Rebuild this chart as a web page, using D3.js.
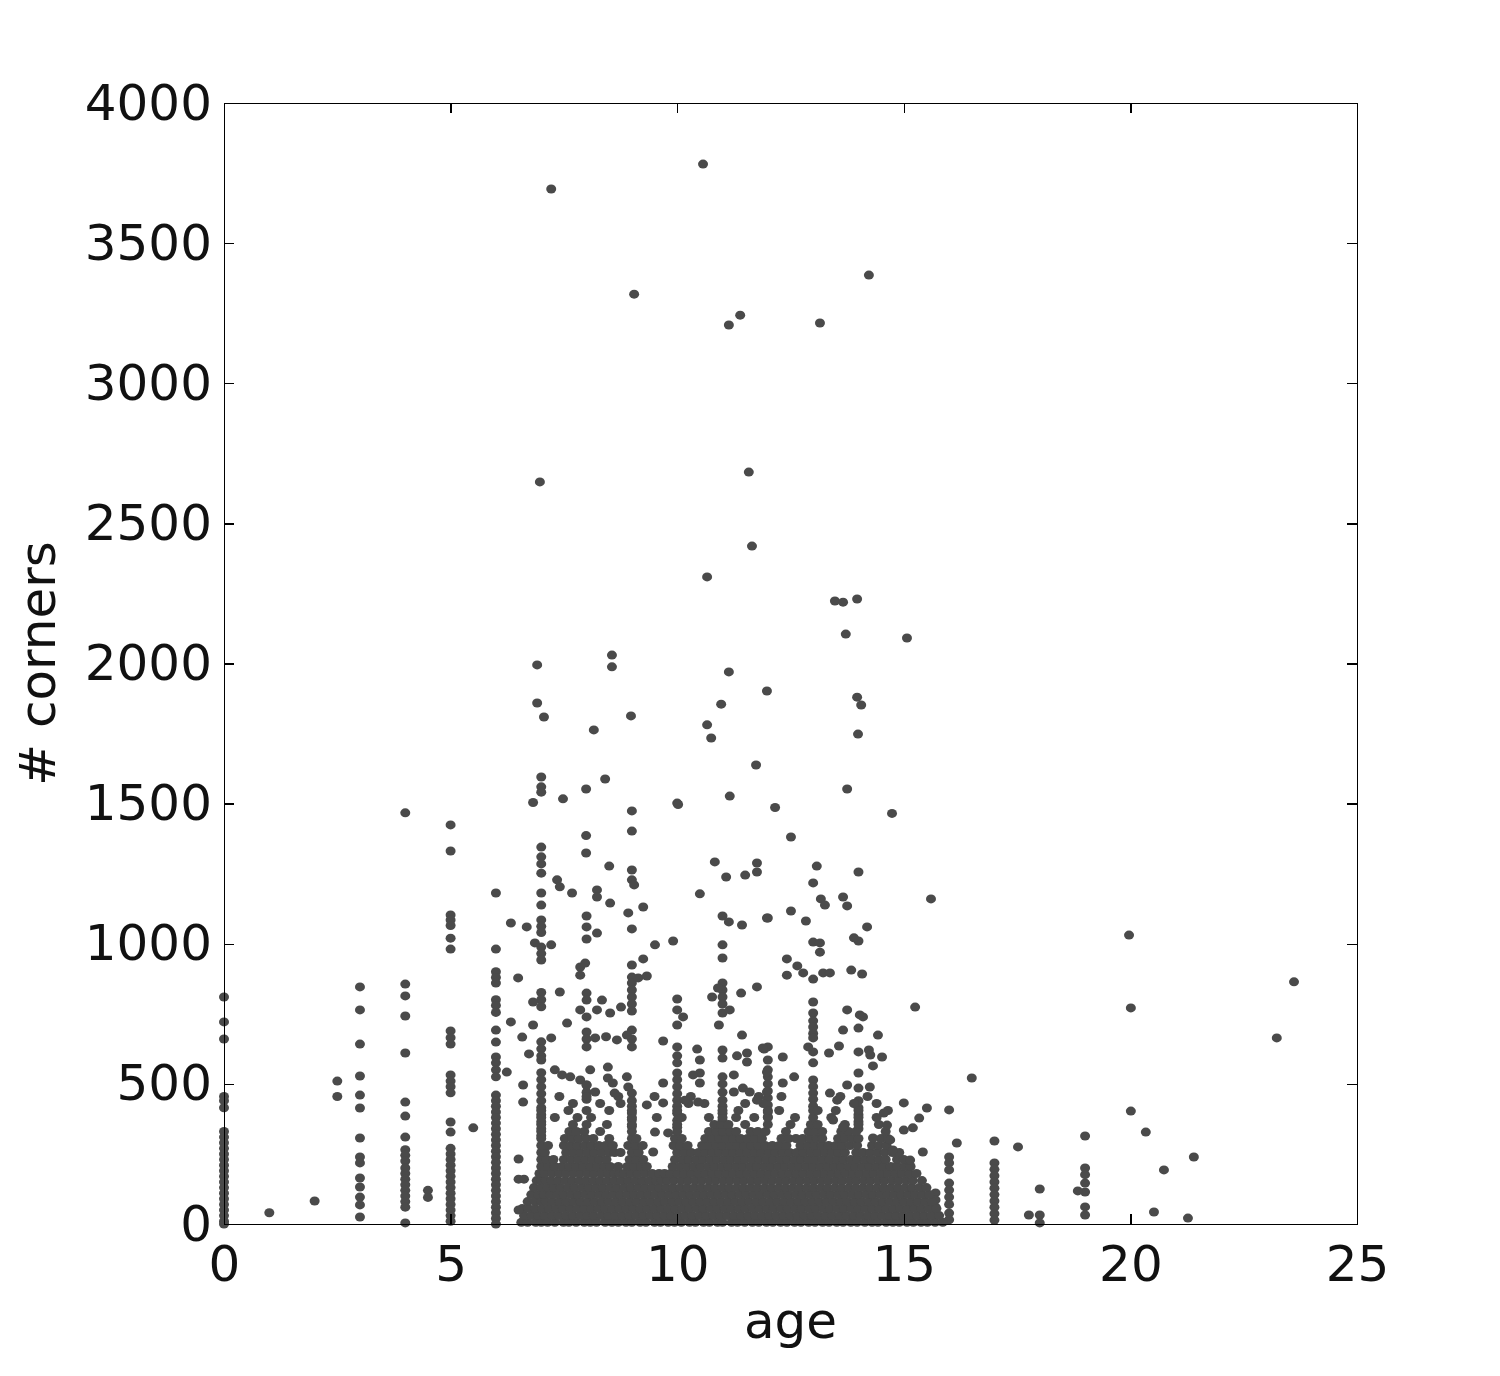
<!DOCTYPE html>
<html lang="en">
<head>
    <meta charset="UTF-8">
    <title># corners vs age</title>
    <script src="https://d3js.org/d3.v7.min.js"></script>
    <style>
        body { margin: 0; background: #fff; }
        .axis path, .axis line { stroke: #000; stroke-width: 1.3; shape-rendering: crispEdges; }
        .axis text { font-family: "DejaVu Sans", sans-serif; font-size: 50px; fill: #111; }
        .axis-title { font-family: "DejaVu Sans", sans-serif; font-size: 50px; fill: #111; }
        .dot { fill: #4a4a4a; }
    </style>
</head>
<body>
<svg id="chart"></svg>
<script>
// tick labels
const xTicks = [0, 5, 10, 15, 20, 25];
const yTicks = [0, 500, 1000, 1500, 2000, 2500, 3000, 3500, 4000];

// vertical stripes of points at (nearly) whole ages
const stripeAges = [0, 3, 4, 5, 6, 7, 8, 9, 10, 11, 12, 13, 14, 15.7, 16, 17, 18, 19];
const stripeCorners = [
    [810, 721, 660, 455, 440, 415, 330, 310, 290, 270, 250, 230, 210, 190, 170, 150, 130, 110, 90, 70, 50, 30, 10, 0],
    [846, 764, 642, 528, 460, 414, 307, 239, 218, 164, 132, 96, 68, 25],
    [1467, 856, 814, 742, 610, 435, 385, 310, 265, 245, 225, 200, 180, 160, 140, 120, 100, 80, 60, 4],
    [1424, 1331, 1103, 1085, 1065, 1020, 981, 689, 665, 642, 532, 510, 490, 468, 364, 328, 270, 250, 230, 210, 190, 170, 150, 130, 110, 90, 70, 50, 30, 10],
    [1181, 981, 900, 880, 860, 800, 780, 755, 692, 649, 596, 575, 550, 525, 460, 440, 420, 400, 380, 360, 340, 320, 300, 280, 260, 240, 220, 200, 180, 160, 140, 120, 100, 80, 60, 40, 20, 0],
    [1595, 1560, 1541, 1345, 1310, 1285, 1252, 1181, 1138, 1085, 1062, 1040, 988, 965, 942, 826, 800, 775, 650, 625, 600, 585, 540, 515, 490, 465, 440, 415, 390, 365, 340, 315],
    [1099, 1060, 1017, 824, 799, 739, 685, 660, 632, 496, 470, 445],
    [1474, 1402, 1263, 1228, 1053, 924, 881, 860, 835, 810, 785, 760, 692, 660, 632, 467, 440, 420, 396, 372, 348],
    [1502, 803, 764, 710, 632, 600, 575, 539, 515, 490, 465, 442, 420, 395, 370, 345],
    [996, 949, 860, 835, 810, 785, 753, 621, 592, 525, 500, 470, 442, 420, 395, 370, 345, 320],
    [1092, 632, 585, 550, 525, 500, 475, 450, 425, 400, 382],
    [1217, 1006, 874, 792, 753, 725, 703, 680, 664, 614, 575, 514, 490, 467, 445, 420],
    [1256, 1010, 699, 614, 539, 485, 440, 415, 390, 365, 340],
    [111, 86, 61, 39],
    [407, 239, 218, 193, 146, 121, 96, 70, 39, 15],
    [296, 218, 195, 172, 150, 128, 105, 82, 60, 37, 14],
    [125, 32, 4],
    [314, 200, 176, 146, 114, 61, 32]
];

// the dense band near the bottom, read row by row
const rowCorners = [6, 30, 55, 80, 105, 130, 155, 180, 205, 230, 255, 280, 305, 330, 355, 380, 405, 430, 455];
const rowAges = [
    [6.56, 6.7, 6.88, 7.0, 7.14, 7.3, 7.49, 7.61, 7.77, 7.95, 8.08, 8.22, 8.41, 8.56, 8.7, 8.87, 9.0, 9.18, 9.31, 9.5, 9.63, 9.8, 9.94, 10.09, 10.27, 10.4, 10.58, 10.71, 10.89, 11.0, 11.2, 11.33, 11.49, 11.66, 11.8, 11.97, 12.11, 12.28, 12.42, 12.59, 12.73, 12.9, 13.04, 13.21, 13.35, 13.52, 13.66, 13.83, 13.97, 14.14, 14.3, 14.43, 14.61, 14.76, 14.9, 15.07, 15.21, 15.38, 15.52, 15.69, 15.86],
    [6.62, 6.79, 6.93, 7.08, 7.24, 7.39, 7.55, 7.7, 7.86, 8.01, 8.16, 8.33, 8.48, 8.63, 8.79, 8.94, 9.1, 9.25, 9.41, 9.56, 9.72, 9.87, 10.02, 10.18, 10.33, 10.5, 10.64, 10.8, 10.95, 11.1, 11.26, 11.41, 11.57, 11.72, 11.88, 12.03, 12.19, 12.35, 12.5, 12.66, 12.81, 12.97, 13.12, 13.28, 13.43, 13.59, 13.74, 13.9, 14.05, 14.21, 14.37, 14.52, 14.68, 14.83, 14.99, 15.14, 15.3, 15.45, 15.61, 15.78],
    [6.58, 6.72, 6.87, 7.02, 7.17, 7.33, 7.48, 7.64, 7.8, 7.95, 8.1, 8.26, 8.41, 8.57, 8.72, 8.88, 9.03, 9.19, 9.34, 9.5, 9.65, 9.81, 9.96, 10.12, 10.27, 10.43, 10.58, 10.74, 10.89, 11.05, 11.2, 11.36, 11.51, 11.67, 11.82, 11.98, 12.13, 12.29, 12.44, 12.6, 12.75, 12.91, 13.06, 13.22, 13.37, 13.53, 13.68, 13.84, 13.99, 14.15, 14.3, 14.46, 14.61, 14.77, 14.92, 15.08, 15.23, 15.39, 15.55, 15.72],
    [6.7, 6.86, 7.0, 7.1, 7.25, 7.41, 7.56, 7.72, 7.87, 8.03, 8.18, 8.34, 8.49, 8.65, 8.8, 8.96, 9.11, 9.27, 9.42, 9.58, 9.73, 9.89, 10.04, 10.2, 10.35, 10.51, 10.66, 10.82, 10.97, 11.13, 11.28, 11.44, 11.59, 11.75, 11.9, 12.06, 12.21, 12.37, 12.52, 12.68, 12.83, 12.99, 13.14, 13.3, 13.45, 13.61, 13.76, 13.92, 14.07, 14.23, 14.38, 14.54, 14.69, 14.85, 15.0, 15.16, 15.31, 15.47, 15.62],
    [6.78, 6.93, 7.06, 7.2, 7.35, 7.5, 7.66, 7.81, 7.97, 8.12, 8.28, 8.43, 8.59, 8.74, 8.9, 9.05, 9.21, 9.36, 9.52, 9.67, 9.83, 9.98, 10.14, 10.29, 10.45, 10.6, 10.76, 10.91, 11.07, 11.22, 11.38, 11.53, 11.69, 11.84, 12.0, 12.15, 12.31, 12.46, 12.62, 12.77, 12.93, 13.08, 13.24, 13.39, 13.55, 13.7, 13.86, 14.01, 14.17, 14.32, 14.48, 14.63, 14.79, 14.94, 15.1, 15.25, 15.41, 15.56],
    [6.84, 7.0, 7.14, 7.28, 7.43, 7.59, 7.74, 7.9, 8.05, 8.21, 8.36, 8.52, 8.67, 8.83, 8.98, 9.14, 9.29, 9.45, 9.6, 9.76, 9.91, 10.07, 10.22, 10.38, 10.53, 10.69, 10.84, 11.0, 11.15, 11.31, 11.46, 11.62, 11.77, 11.93, 12.08, 12.24, 12.39, 12.55, 12.7, 12.86, 13.01, 13.17, 13.32, 13.48, 13.63, 13.79, 13.94, 14.1, 14.25, 14.41, 14.56, 14.72, 14.87, 15.03, 15.18, 15.34, 15.5],
    [6.9, 7.0, 7.1, 7.22, 7.37, 7.53, 7.68, 7.84, 7.99, 8.15, 8.3, 8.46, 8.61, 8.77, 8.92, 9.08, 9.23, 9.39, 9.54, 9.66, 9.78, 9.93, 10.09, 10.24, 10.4, 10.55, 10.71, 10.86, 11.02, 11.17, 11.33, 11.48, 11.64, 11.79, 11.95, 12.1, 12.26, 12.41, 12.57, 12.72, 12.88, 13.03, 13.19, 13.34, 13.5, 13.65, 13.81, 13.96, 14.12, 14.27, 14.43, 14.58, 14.74, 14.89, 15.05, 15.2, 15.4],
    [6.96, 7.08, 7.24, 7.4, 7.55, 7.71, 7.86, 8.02, 8.17, 8.33, 8.48, 8.62, 8.72, 8.82, 8.98, 9.13, 9.29, 9.45, 9.6, 9.72, 9.85, 10.0, 10.16, 10.31, 10.47, 10.62, 10.78, 10.93, 11.09, 11.24, 11.4, 11.55, 11.71, 11.86, 12.02, 12.17, 12.33, 12.48, 12.64, 12.79, 12.95, 13.1, 13.26, 13.41, 13.57, 13.72, 13.88, 14.03, 14.19, 14.34, 14.5, 14.65, 14.81, 14.96, 15.12, 15.28],
    [7.0, 7.15, 7.3, 7.46, 7.62, 7.77, 7.93, 8.08, 8.24, 8.39, 8.52, 8.7, 8.9, 9.05, 9.2, 9.33, 9.9, 10.06, 10.21, 10.37, 10.52, 10.68, 10.83, 10.99, 11.14, 11.3, 11.45, 11.61, 11.76, 11.92, 12.07, 12.23, 12.38, 12.54, 12.69, 12.85, 13.0, 13.16, 13.31, 13.47, 13.62, 13.78, 13.93, 14.09, 14.24, 14.4, 14.55, 14.71, 14.86, 15.02, 15.15],
    [7.0, 7.12, 7.27, 7.5, 7.66, 7.82, 7.97, 8.13, 8.28, 8.44, 8.95, 9.1, 9.25, 9.95, 10.11, 10.26, 10.42, 10.57, 10.73, 10.88, 11.04, 11.19, 11.35, 11.5, 11.66, 11.81, 11.97, 12.12, 12.28, 12.43, 12.59, 12.74, 12.9, 13.05, 13.21, 13.36, 13.52, 13.67, 13.83, 13.98, 14.14, 14.29, 14.45, 14.6, 14.85, 15.0],
    [7.0, 7.08, 7.55, 7.71, 7.86, 8.02, 8.17, 8.33, 8.5, 8.62, 8.75, 9.0, 9.15, 10.0, 10.16, 10.31, 10.47, 10.62, 10.78, 10.93, 11.09, 11.24, 11.4, 11.55, 11.71, 11.86, 12.02, 12.17, 12.33, 12.48, 12.64, 12.79, 12.95, 13.1, 13.26, 13.41, 13.55, 13.7, 13.95, 14.1, 14.26, 14.42, 14.58, 14.75, 14.9],
    [7.0, 7.15, 7.5, 7.65, 7.8, 7.96, 8.11, 8.27, 8.42, 8.58, 8.92, 9.08, 9.24, 9.92, 10.07, 10.23, 10.55, 10.7, 10.86, 11.0, 11.17, 11.32, 11.48, 11.63, 11.79, 11.94, 12.1, 12.25, 12.41, 12.72, 12.88, 13.03, 13.19, 13.34, 13.5, 13.65, 13.81, 13.97, 14.3, 14.45, 14.62],
    [7.0, 7.52, 7.68, 7.83, 7.99, 8.15, 8.5, 9.0, 9.1, 9.95, 10.1, 10.62, 10.78, 10.93, 11.09, 11.24, 11.4, 11.55, 11.71, 11.87, 12.3, 12.46, 12.62, 12.77, 12.93, 13.08, 13.2, 13.55, 13.7, 13.86, 14.0, 14.5, 14.65],
    [7.0, 7.62, 7.78, 7.95, 8.3, 9.0, 10.0, 10.7, 10.86, 11.01, 11.17, 11.3, 11.62, 11.78, 11.95, 12.4, 12.9, 13.05, 13.2, 13.62, 13.78, 13.95, 14.6],
    [7.0, 7.7, 8.0, 8.45, 9.0, 10.0, 10.82, 10.98, 11.13, 11.5, 12.0, 12.5, 12.95, 13.1, 13.7, 14.0, 14.45],
    [7.0, 7.3, 7.8, 8.1, 9.0, 9.55, 10.1, 10.7, 11.0, 11.3, 11.7, 12.0, 12.6, 13.0, 13.4, 14.0, 14.4],
    [7.0, 7.6, 8.0, 8.5, 9.0, 10.0, 11.0, 11.35, 12.0, 12.25, 13.0, 13.1, 13.5, 14.0, 14.65],
    [7.7, 8.3, 8.75, 10.25, 10.6, 11.5, 11.9, 13.9, 14.4],
    [7.4, 8.0, 8.7, 9.5, 10.3, 11.8, 12.3, 13.6, 14.2]
];

// scattered points [age, corners]
const loosePoints = [
    [10.57, 3782], [7.22, 3693], [14.23, 3386], [9.05, 3318], [11.39, 3243], [11.14, 3208], [13.15, 3215],
    [11.58, 2683], [6.97, 2648], [11.65, 2419], [10.66, 2309], [13.48, 2223], [13.66, 2219], [13.97, 2230],
    [13.72, 2105], [15.07, 2091], [8.56, 2030], [8.56, 1988], [6.91, 1995], [11.14, 1970], [11.98, 1902],
    [13.97, 1880], [14.06, 1852], [6.91, 1859], [10.97, 1855], [7.06, 1809], [8.98, 1813], [10.66, 1781],
    [10.75, 1734], [8.16, 1763], [13.99, 1748], [11.74, 1638], [8.41, 1588], [13.75, 1552], [7.99, 1552],
    [7.48, 1517], [6.82, 1504], [11.16, 1527], [10.02, 1497], [12.16, 1486], [14.74, 1465], [12.51, 1381],
    [7.99, 1386], [7.99, 1324], [8.5, 1277], [9.05, 1210], [7.35, 1228], [7.41, 1203], [7.68, 1181],
    [8.23, 1192], [8.23, 1167], [8.52, 1145], [9.25, 1131], [8.92, 1110], [10.83, 1292], [11.08, 1238],
    [11.5, 1245], [11.76, 1288], [11.76, 1256], [10.5, 1178], [11.98, 1092], [11.0, 1099], [11.14, 1078],
    [11.43, 1067], [6.33, 1074], [6.68, 1060], [8.23, 1038], [7.22, 996], [6.86, 1003], [9.51, 996],
    [9.91, 1010], [9.25, 946], [13.08, 1277], [13.17, 1160], [13.26, 1138], [13.66, 1167], [13.75, 1135],
    [15.6, 1160], [12.51, 1117], [12.84, 1081], [14.19, 1060], [13.9, 1021], [13.15, 1003], [13.15, 970],
    [12.42, 946], [12.42, 888], [12.65, 921], [12.78, 896], [13.22, 896], [13.37, 896], [13.84, 906],
    [14.08, 892], [19.97, 1031],
    [9.14, 878], [9.33, 885], [7.86, 917], [7.97, 931], [7.86, 888], [6.49, 878], [7.41, 828], [8.34, 799],
    [8.23, 764], [7.86, 764], [8.52, 753], [8.76, 774], [6.82, 792], [6.33, 721], [6.82, 710], [6.58, 667],
    [6.73, 607], [7.22, 664], [7.57, 717], [8.19, 664], [8.43, 668], [8.67, 657], [8.89, 674], [9.69, 653],
    [10.13, 739], [10.77, 810], [10.9, 842], [11.16, 764], [10.92, 710], [11.41, 824], [11.76, 846],
    [11.43, 674], [10.44, 624], [10.5, 585], [10.5, 539], [10.35, 532], [11.32, 600], [11.54, 610],
    [11.54, 578], [11.92, 624], [6.6, 496], [6.6, 435], [6.24, 542], [7.3, 550], [7.46, 532], [7.64, 525],
    [7.86, 514], [8.0, 496], [8.19, 471], [8.47, 560], [8.47, 521], [8.58, 503], [8.62, 467], [8.89, 525],
    [8.92, 489], [8.08, 550], [9.69, 503], [9.69, 432], [9.33, 425], [10.17, 442], [10.5, 503], [10.46, 435],
    [11.25, 532], [11.25, 471], [11.45, 485], [11.6, 471], [11.76, 442], [11.98, 542], [11.98, 471],
    [12.89, 632], [13.75, 764], [14.03, 746], [14.1, 739], [13.66, 692], [14.43, 674], [13.57, 635],
    [13.35, 610], [14.23, 621], [14.26, 603], [14.52, 596], [14.32, 564], [15.25, 774], [12.33, 596],
    [11.89, 628], [12.33, 503], [12.58, 525], [13.75, 496], [14.25, 489], [13.37, 467], [13.53, 442],
    [13.44, 371], [13.66, 346], [14.56, 396], [14.63, 353], [15.0, 432], [15.2, 343], [15.51, 414],
    [15.34, 378], [16.5, 521], [16.17, 289], [15.42, 257], [14.32, 307], [14.7, 300], [15.0, 335],
    [14.76, 264], [15.14, 228], [17.52, 275], [17.76, 32], [18.84, 118], [20.01, 771], [20.01, 403],
    [20.34, 328], [20.74, 193], [20.52, 43], [21.4, 239], [21.27, 21], [23.23, 664], [23.61, 864],
    [6.5, 232], [6.5, 160], [6.62, 160], [6.5, 50], [1, 40], [2, 82], [2.5, 510], [2.5, 455],
    [4.5, 120], [4.5, 95], [5.5, 343], [9.47, 257], [9.51, 328], [9.8, 325]
];

// collect everything into one list of points
const points = [];
stripeAges.forEach((a, i) => stripeCorners[i].forEach(c => points.push({ age: a, corners: c })));
rowCorners.forEach((c, i) => rowAges[i].forEach(a => points.push({ age: a, corners: c })));
loosePoints.forEach(p => points.push({ age: p[0], corners: p[1] }));

const W = 1500, H = 1376;
const margin = { top: 103, right: 143, bottom: 152, left: 224 };
const width = W - margin.left - margin.right;
const height = H - margin.top - margin.bottom;

const svg = d3.select("#chart").attr("width", W).attr("height", H);
const g = svg.append("g").attr("transform", `translate(${margin.left},${margin.top})`);

const x = d3.scaleLinear().domain([0, 25]).range([0, width]);
const y = d3.scaleLinear().domain([0, 4000]).range([height, 0]);

// dots
g.selectAll(".dot")
    .data(points)
    .enter().append("ellipse")
    .attr("class", "dot")
    .attr("cx", d => x(d.age))
    .attr("cy", d => y(d.corners))
    .attr("rx", 5)
    .attr("ry", 4.5);

// axes, ticks pointing inward like the original
const fmt = d3.format("d");
g.append("g").attr("class", "axis")
    .attr("transform", `translate(0,${height})`)
    .call(d3.axisBottom(x).tickValues(xTicks).tickFormat(fmt).tickSize(-10).tickPadding(21).tickSizeOuter(0));
g.append("g").attr("class", "axis")
    .call(d3.axisLeft(y).tickValues(yTicks).tickFormat(fmt).tickSize(-10).tickPadding(12).tickSizeOuter(0));
g.append("g").attr("class", "axis")
    .call(d3.axisTop(x).tickValues(xTicks).tickSize(-10).tickSizeOuter(0).tickFormat(""));
g.append("g").attr("class", "axis")
    .attr("transform", `translate(${width},0)`)
    .call(d3.axisRight(y).tickValues(yTicks).tickSize(-10).tickSizeOuter(0).tickFormat(""));

g.selectAll(".axis text").attr("font-family", null).attr("font-size", null);

// axis titles
svg.append("text")
    .attr("class", "axis-title")
    .attr("x", margin.left + width / 2)
    .attr("y", 1338)
    .attr("text-anchor", "middle")
    .text("age");

svg.append("text")
    .attr("class", "axis-title")
    .attr("transform", `translate(55,${margin.top + height / 2}) rotate(-90)`)
    .attr("text-anchor", "middle")
    .text("# corners");
</script>
</body>
</html>
